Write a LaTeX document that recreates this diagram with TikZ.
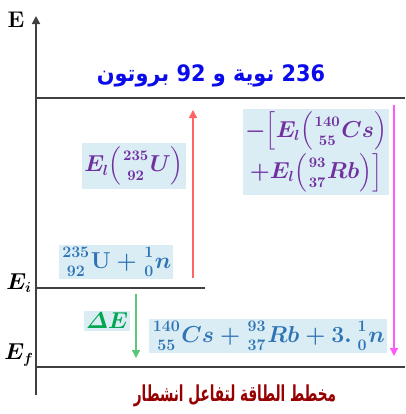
\documentclass[tikz,border=0pt]{standalone}
\usepackage{amsmath,amssymb}
\usepackage{fontspec}
\newfontfamily\arabicfont[Script=Arabic]{DejaVu Sans}
\TeXXeTstate=1
\usetikzlibrary{positioning,arrows.meta}

\definecolor{boxbg}{RGB}{218,236,244}
\definecolor{lvlgray}{RGB}{64,64,64}
\definecolor{purpletxt}{RGB}{112,48,160}
\definecolor{bluetxt}{RGB}{46,116,181}
\definecolor{greentxt}{RGB}{0,166,80}
\definecolor{greenarr}{RGB}{90,200,120}
\definecolor{redarr}{RGB}{255,100,100}
\definecolor{magarr}{RGB}{255,90,255}
\definecolor{titlered}{RGB}{150,0,0}
\definecolor{topblue}{RGB}{10,10,235}

\newcommand{\nuc}[2]{\genfrac{}{}{0pt}{1}{#1}{#2}}

\begin{document}
\begin{tikzpicture}[x=0.75pt, y=-0.75pt,
    lvl/.style={draw=lvlgray, line width=1pt},
    lbl/.style={fill=boxbg, inner sep=1.5pt, font=\fontsize{16}{19}\selectfont},
    big/.style={font=\fontsize{16.8}{21}\selectfont},
    arr/.style={-{Triangle[width=6pt,length=6pt]}, line width=1pt},
    elbl/.style={font=\fontsize{16}{16}\selectfont}
]
    \useasboundingbox (0,0) rectangle (405,414);

    % --- Energy axis ---
    \coordinate (axB) at (36,395);
    \coordinate (axT) at (36,16);
    \draw[arr, lvlgray, line width=1.3pt] (axB) -- (axT);
    \node[font=\bfseries\fontsize{17}{17}\selectfont] (eaxis) at (16,20) {E};

    % --- Levels ---
    \coordinate (top0) at (36,98);  \coordinate (top1) at (405,98);
    \coordinate (ei0) at (36,288);  \coordinate (ei1) at (205,288);
    \coordinate (ef0) at (36,367);  \coordinate (ef1) at (405,367);
    \draw[lvl] (top0) -- (top1);
    \draw[lvl] (ei0) -- (ei1);
    \draw[lvl] (ef0) -- (ef1);
    \node[elbl] (ei) at (19,283) {$\boldsymbol{E_i}$};
    \node[elbl] (ef) at (19,355) {$\boldsymbol{E_f}$};

    % --- Top level: 236 nucleons, 92 protons ---
    \node[text=topblue, font=\arabicfont\bfseries\fontsize{17}{19}\selectfont] (nucl) at (211,76)
        {\scalebox{0.92}[1]{\beginR\beginL 236\endL{} نوية و \beginL 92\endL{} بروتون\endR}};

    % --- Binding energies ---
    \coordinate (redS) at (193,278);  \coordinate (redE) at (193,110);
    \draw[arr, redarr] (redS) -- (redE);
    \node[lbl, text=purpletxt] (elU) at (134,166)
        {$\boldsymbol{E_l\Big(\nuc{235}{92}U\Big)}$};

    \coordinate (magS) at (394,105);  \coordinate (magE) at (394,356);
    \draw[arr, magarr] (magS) -- (magE);
    \node[lbl, text=purpletxt, align=center] (elCsRb) at (316,152)
        {$\boldsymbol{-\Big[E_l\Big(\nuc{140}{55}Cs\Big)}$\\[-1pt]
         $\boldsymbol{+E_l\Big(\nuc{93}{37}Rb\Big)\Big]}$};

    % --- Initial and final states ---
    \node[lbl, big, text=bluetxt] (init) at (116,262)
        {$\boldsymbol{\nuc{235}{92}\mathbf{U}+\nuc{1}{0}n}$};
    \node[lbl, big, text=bluetxt] (fin) at (268,336)
        {$\boldsymbol{\nuc{140}{55}Cs+\nuc{93}{37}Rb+3.\,\nuc{1}{0}n}$};

    % --- Released energy ---
    \coordinate (grS) at (136,294);  \coordinate (grE) at (136,358);
    \draw[arr, greenarr] (grS) -- (grE);
    \node[lbl, text=greentxt] (dE) at (107,321) {$\boldsymbol{\varDelta E}$};

    % --- Title ---
    \node[text=titlered, font=\arabicfont\bfseries\fontsize{15}{18}\selectfont] (title) at (235,396)
        {\scalebox{0.68}[1.1]{\beginR مخطط الطاقة لتفاعل انشطار\endR}};
\end{tikzpicture}
\end{document}
